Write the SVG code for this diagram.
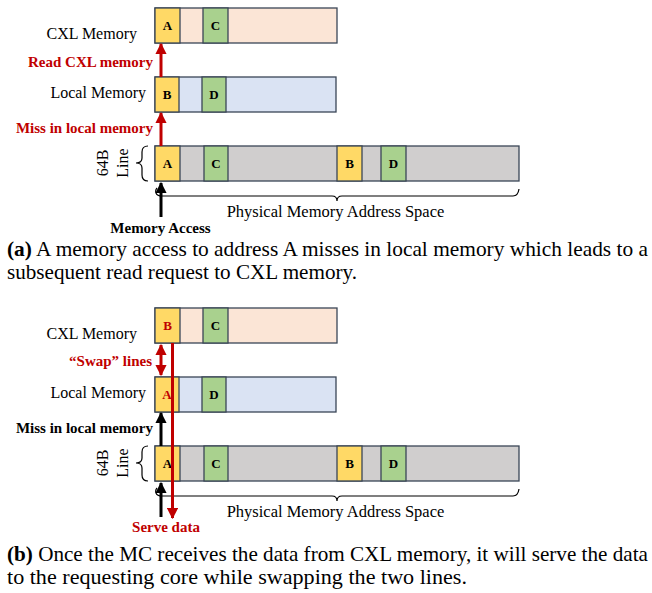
<svg xmlns="http://www.w3.org/2000/svg" width="652" height="593" viewBox="0 0 652 593">
<defs>
<style>
.bar{stroke:#3A4656;stroke-width:1.3}
.cxl{fill:#FBE5D6}
.loc{fill:#DAE3F3}
.phy{fill:#D0CECE}
.y{fill:#FFD966;stroke:#3A4656;stroke-width:1.3}
.g{fill:#A9D18E;stroke:#3A4656;stroke-width:1.3}
.cell{font-family:"Liberation Serif",serif;font-weight:bold;font-size:13px;text-anchor:middle;fill:#000}
.red{fill:#C00000}
.lbl{font-family:"Liberation Serif",serif;font-size:16px;fill:#000}
.plbl{font-family:"Liberation Serif",serif;font-size:16.5px;fill:#000}
.blbl{font-family:"Liberation Serif",serif;font-weight:bold;font-size:15px}
.cap{font-family:"Liberation Serif",serif;font-size:21px;fill:#000}
.brace{fill:none;stroke:#000;stroke-width:1.2}
.ra{stroke:#C00000;stroke-width:3;fill:none}
.ba{stroke:#000;stroke-width:3;fill:none}
</style>
<marker id="mr" viewBox="0 0 10 10" refX="9" refY="5" markerWidth="3.8" markerHeight="3.8" orient="auto-start-reverse" markerUnits="strokeWidth"><path d="M0,0 L10,5 L0,10 z" fill="#C00000"/></marker>
<marker id="mb" viewBox="0 0 10 10" refX="9" refY="5" markerWidth="3.8" markerHeight="3.8" orient="auto-start-reverse" markerUnits="strokeWidth"><path d="M0,0 L10,5 L0,10 z" fill="#000"/></marker>
</defs>

<!-- Panel (a) -->
<g id="a-cxl">
<rect class="bar cxl" x="155" y="8" width="182" height="35"/>
<rect class="y" x="155" y="8" width="25" height="35"/>
<rect class="g" x="203" y="8" width="25" height="35"/>
<text class="cell" x="167.5" y="30">A</text>
<text class="cell" x="215.5" y="30">C</text>
<text class="lbl" x="137" y="39" text-anchor="end">CXL Memory</text>
</g>
<g id="a-local">
<rect class="bar loc" x="155" y="77" width="181" height="35"/>
<rect class="y" x="155" y="77" width="24" height="35"/>
<rect class="g" x="202" y="77" width="24" height="35"/>
<text class="cell" x="167" y="99">B</text>
<text class="cell" x="214" y="99">D</text>
<text class="lbl" x="146" y="98" text-anchor="end">Local Memory</text>
</g>
<g id="a-phys">
<rect class="bar phy" x="155" y="146" width="364" height="35"/>
<rect class="y" x="155" y="146" width="25" height="35"/>
<rect class="g" x="204" y="146" width="24" height="35"/>
<rect class="y" x="337" y="146" width="25" height="35"/>
<rect class="g" x="381" y="146" width="25" height="35"/>
<text class="cell" x="167.5" y="168">A</text>
<text class="cell" x="216" y="168">C</text>
<text class="cell" x="349.5" y="168">B</text>
<text class="cell" x="393.5" y="168">D</text>
<path class="brace" d="M148,146 Q142,146 142,152 L142,158 Q142,163 136,163 Q142,163 142,168 L142,175 Q142,181 148,181"/>
<text class="lbl" transform="translate(108,163) rotate(-90)" text-anchor="middle">64B</text>
<text class="lbl" transform="translate(127.5,163) rotate(-90)" text-anchor="middle">Line</text>
<path class="brace" d="M157,188 Q155,190 156,193 Q157,196 162,196 L332,196 Q337,196 337,201 Q337,196 342,196 L513,196 Q518,196 519,189"/>
<text class="plbl" x="335.5" y="217" text-anchor="middle">Physical Memory Address Space</text>
</g>
<g id="a-connectors">
<line class="ra" x1="161" y1="146" x2="161" y2="113" marker-end="url(#mr)"/>
<line class="ra" x1="161" y1="77" x2="161" y2="44" marker-end="url(#mr)"/>
<line class="ba" x1="161" y1="217" x2="161" y2="183" marker-end="url(#mb)"/>
<text class="blbl red" x="153" y="67" text-anchor="end">Read CXL memory</text>
<text class="blbl red" x="153" y="133" text-anchor="end">Miss in local memory</text>
<text class="blbl" x="160.5" y="233" text-anchor="middle">Memory Access</text>
</g>
<g id="a-caption">
<text class="cap" x="7" y="256" textLength="641" lengthAdjust="spacingAndGlyphs"><tspan font-weight="bold">(a)</tspan> A memory access to address A misses in local memory which leads to a</text>
<text class="cap" x="7" y="279" textLength="350" lengthAdjust="spacingAndGlyphs">subsequent read request to CXL memory.</text>
</g>

<!-- Panel (b) -->
<g id="b-cxl">
<rect class="bar cxl" x="155" y="308" width="182" height="35"/>
<rect class="y" x="155" y="308" width="25" height="35"/>
<rect class="g" x="203" y="308" width="25" height="35"/>
<text class="cell red" x="167.5" y="330">B</text>
<text class="cell" x="215.5" y="330">C</text>
<text class="lbl" x="137" y="339" text-anchor="end">CXL Memory</text>
</g>
<g id="b-local">
<rect class="bar loc" x="155" y="377" width="181" height="35"/>
<rect class="y" x="155" y="377" width="24" height="35"/>
<rect class="g" x="202" y="377" width="24" height="35"/>
<text class="cell red" x="167" y="399">A</text>
<text class="cell" x="214" y="399">D</text>
<text class="lbl" x="146" y="398" text-anchor="end">Local Memory</text>
</g>
<g id="b-phys">
<rect class="bar phy" x="155" y="446" width="364" height="35"/>
<rect class="y" x="155" y="446" width="25" height="35"/>
<rect class="g" x="204" y="446" width="24" height="35"/>
<rect class="y" x="337" y="446" width="25" height="35"/>
<rect class="g" x="381" y="446" width="25" height="35"/>
<text class="cell" x="167.5" y="468">A</text>
<text class="cell" x="216" y="468">C</text>
<text class="cell" x="349.5" y="468">B</text>
<text class="cell" x="393.5" y="468">D</text>
<path class="brace" d="M148,446 Q142,446 142,452 L142,458 Q142,463 136,463 Q142,463 142,468 L142,475 Q142,481 148,481"/>
<text class="lbl" transform="translate(108,463) rotate(-90)" text-anchor="middle">64B</text>
<text class="lbl" transform="translate(127.5,463) rotate(-90)" text-anchor="middle">Line</text>
<path class="brace" d="M157,488 Q155,490 156,493 Q157,496 162,496 L332,496 Q337,496 337,501 Q337,496 342,496 L513,496 Q518,496 519,489"/>
<text class="plbl" x="335.5" y="517" text-anchor="middle">Physical Memory Address Space</text>
</g>
<g id="b-connectors">
<line class="ra" x1="161" y1="345" x2="161" y2="375" marker-start="url(#mr)" marker-end="url(#mr)"/>
<line class="ba" x1="161" y1="446" x2="161" y2="413" marker-end="url(#mb)"/>
<line class="ba" x1="161" y1="517" x2="161" y2="483" marker-end="url(#mb)"/>
<line class="ra" x1="172.5" y1="343" x2="172.5" y2="518" marker-end="url(#mr)"/>
<text class="blbl red" x="152" y="366" text-anchor="end">“Swap” lines</text>
<text class="blbl" x="153" y="433" text-anchor="end">Miss in local memory</text>
<text class="blbl red" x="166" y="532" text-anchor="middle">Serve data</text>
</g>
<g id="b-caption">
<text class="cap" x="7" y="561" textLength="641" lengthAdjust="spacingAndGlyphs"><tspan font-weight="bold">(b)</tspan> Once the MC receives the data from CXL memory, it will serve the data</text>
<text class="cap" x="7" y="584" textLength="460" lengthAdjust="spacingAndGlyphs">to the requesting core while swapping the two lines.</text>
</g>
</svg>
